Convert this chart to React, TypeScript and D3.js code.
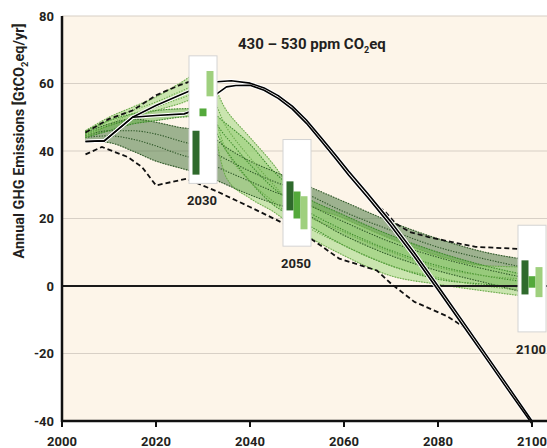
import React from "react";
import * as d3 from "d3";

// scenario years (shared by all green scenario groups)
const years = [2005, 2010, 2015, 2020, 2025, 2030, 2035, 2040, 2045, 2050, 2060, 2070, 2080, 2090, 2100];

// scenarios with < 50 GtCO2eq in 2030
const darkScenarios = [
  [45.5, 48, 49.5, 48.5, 47, 46, 41, 37, 34, 31, 25, 19, 14, 10, 7.6],
  [44.5, 46, 46, 45, 43, 41, 37.5, 34, 31, 28.5, 22, 16.5, 11.5, 8, 5],
  [44, 44.5, 43.5, 41.5, 39, 37, 34, 31, 28, 25.5, 19, 13, 8.5, 5, 2],
  [43, 42.5, 40, 37, 35, 33, 30, 27, 24.5, 22.4, 15, 9, 4.5, 1, -2.5],
];
// scenarios with 50-55 GtCO2eq in 2030
const midScenarios = [
  [46, 49, 51, 52, 52.5, 52.6, 48, 42, 34, 28, 21, 15, 10, 6, 2.9],
  [45, 47.5, 49.5, 50.5, 51, 51.5, 44, 36, 29, 24, 16.5, 10.5, 6, 3, 1],
  [44, 46, 48, 49, 50, 50.3, 40, 31, 24, 20, 12, 6, 2, 0.5, -0.5],
];
// scenarios with > 55 GtCO2eq in 2030
const lightScenarios = [
  [46, 50, 53, 56, 60, 63.7, 52, 44, 36, 26.6, 20, 14, 9, 6, 5.6],
  [45, 49, 52, 54.5, 57.5, 60, 47, 38, 30, 23, 16, 10, 5.5, 3, 2],
  [44.5, 48, 51, 53, 55.5, 57.5, 40, 31, 25, 19.5, 12, 6, 2.5, 0, -1.5],
  [44, 47.5, 50, 52, 54, 56.2, 32, 26, 22, 16.8, 9, 3, 0.5, -1.5, -3.3],
];

// full range envelope (dashed)
const upperDashYears = [2005, 2010, 2015, 2020, 2025, 2030, 2050, 2066, 2068.5, 2071, 2074, 2078, 2083, 2088, 2097, 2100];
const upperDash = [45.5, 49.5, 52, 56.5, 59.5, 62, NaN, 24.5, 22.4, 18.5, 16, 14.5, 13, 11.6, 11, 11];
const lowerDashYears = [2005, 2008.5, 2014, 2017, 2020, 2026.5, 2033, 2040, 2046.5, 2053.5, 2059, 2067, 2070, 2075, 2082, 2087];
const lowerDash = [39, 41.2, 38.2, 35.3, 29.8, 31.8, 28, 23.4, 19, 13.5, 8.1, 4.6, 0.7, -4.7, -9, -13.5];

// overshoot scenarios (solid black)
const blackYearsA = [2005, 2009, 2015, 2020, 2025, 2030, 2033, 2036, 2040, 2043, 2046, 2049, 2052, 2055, 2058, 2061, 2065, 2070, 2075, 2080, 2085, 2090, 2095, 2100];
const blackA = [42.8, 43, 50, 53.5, 56.5, 59.5, 60.5, 60.8, 60.1, 58.7, 56.4, 53.3, 49.2, 44.2, 39.2, 34, 27.5, 19, 9.8, 0, -9.9, -19.9, -29.9, -40];
const blackYearsB = [2005, 2009, 2015, 2020, 2026, 2030, 2033, 2035, 2037, 2040, 2043, 2046, 2049, 2052, 2055, 2058, 2061, 2065, 2070, 2075, 2080, 2085, 2090, 2095, 2100];
const blackB = [42.8, 43, 50, 50.5, 51, 53, 57, 59, 59.4, 59.5, 58, 55.6, 52.4, 48.2, 43.2, 38.1, 32.8, 26.3, 17.8, 8.6, -1.2, -11.1, -21, -31, -40.8];

const xTicks = [2000, 2020, 2040, 2060, 2080, 2100];
const yTicks = [80, 60, 40, 20, 0, -20, -40];
const gridValues = [80, 60, 40, 20, -20];
const snapshotYears = [2030, 2050, 2100];
// vertical extent of the white snapshot panels, in GtCO2eq
const panelRanges = [
  [30.4, 68.2],
  [11.8, 43.4],
  [-13.6, 18],
];

const W = 547;
const H = 448;
const FONT = "Roboto, 'Liberation Sans', sans-serif";

const groups = [
  { data: darkScenarios, fill: "#4f7a45", fillOpacity: 0.55, dot: "#2c5626", bar: "#2f6a2c" },
  { data: midScenarios, fill: "#5fb040", fillOpacity: 0.5, dot: "#3a8a28", bar: "#54a93b" },
  { data: lightScenarios, fill: "#a9da88", fillOpacity: 0.6, dot: "#6aaa4a", bar: "#9fd07e" },
];

export default function App() {
  const x = d3.scaleLinear().domain([2000, 2100]).range([62, 532]);
  const y = d3.scaleLinear().domain([-40, 80]).range([421, 16]);

  const scenarioLine = d3
    .line<number>()
    .x((_, i) => x(years[i]))
    .y((d) => y(d))
    .curve(d3.curveMonotoneX);

  const bandArea = (data: number[][]) =>
    d3
      .area<number>()
      .x((_, i) => x(years[i]))
      .y0((_, i) => y(d3.min(data, (s) => s[i]) as number))
      .y1((_, i) => y(d3.max(data, (s) => s[i]) as number))
      .curve(d3.curveMonotoneX)(years);

  const pairLine = (xs: number[], curve: d3.CurveFactory) =>
    d3
      .line<number>()
      .defined((d) => !isNaN(d))
      .x((_, i) => x(xs[i]))
      .y((d) => y(d))
      .curve(curve);

  const lineA = pairLine(blackYearsA, d3.curveLinear)(blackA) || "";
  const lineB = pairLine(blackYearsB, d3.curveLinear)(blackB) || "";

  return (
    <svg width={W} height={H} style={{ position: "absolute", left: 0, top: 0 }} fontFamily={FONT}>
      <rect width={W} height={H} fill="#ffffff" />
      <rect x={x(2000)} y={y(80)} width={W - x(2000)} height={y(-40) - y(80)} fill="#fdf5e9" />

      {gridValues.map((v) => (
        <line key={v} x1={x(2000)} x2={W} y1={y(v)} y2={y(v)} stroke="#d8d0c6" strokeWidth={1.2} />
      ))}

      {/* scenario bands */}
      {groups.map((g, gi) => (
        <path
          key={"band" + gi}
          d={bandArea(g.data) || ""}
          fill={g.fill}
          fillOpacity={g.fillOpacity}
          stroke={g.dot}
          strokeOpacity={0.5}
          strokeWidth={0.6}
        />
      ))}
      {groups.map((g, gi) =>
        g.data.map((s, si) => (
          <path
            key={"sc" + gi + "-" + si}
            d={scenarioLine(s) || ""}
            fill="none"
            stroke={g.dot}
            strokeWidth={1.1}
            strokeDasharray="1.3,1.4"
          />
        ))
      )}

      {/* zero line */}
      <line x1={x(2000)} x2={W} y1={y(0)} y2={y(0)} stroke="#1a1a1a" strokeWidth={1.8} />

      {/* full range */}
      <path d={pairLine(upperDashYears, d3.curveLinear)(upperDash) || ""} fill="none" stroke="#111" strokeWidth={1.8} strokeDasharray="5,3" />
      <path d={pairLine(lowerDashYears, d3.curveLinear)(lowerDash) || ""} fill="none" stroke="#111" strokeWidth={1.8} strokeDasharray="5,3" />

      {/* overshoot pathways */}
      <path d={lineA} fill="none" stroke="#fff" strokeWidth={3.6} strokeLinejoin="round" />
      <path d={lineB} fill="none" stroke="#fff" strokeWidth={3.6} strokeLinejoin="round" />
      <path d={lineA} fill="none" stroke="#000" strokeWidth={1.6} strokeLinejoin="round" />
      <path d={lineB} fill="none" stroke="#000" strokeWidth={1.6} strokeLinejoin="round" />

      {/* snapshot panels */}
      {snapshotYears.map((yr, k) => {
        const idx = years.indexOf(yr);
        const cx = x(yr);
        const [lo, hi] = panelRanges[k];
        return (
          <g key={"panel" + yr}>
            <rect x={cx - 14} y={y(hi)} width={28} height={y(lo) - y(hi)} fill="#fff" stroke="#d4d4d4" strokeWidth={1} />
            {groups.map((g, gi) => {
              const [mn, mx] = d3.extent(g.data, (s) => s[idx]) as [number, number];
              return (
                <rect key={gi} x={cx - 10.5 + gi * 7} y={y(mx)} width={7} height={Math.max(y(mn) - y(mx), 1)} fill={g.bar} />
              );
            })}
            <text x={cx - 1} y={y(lo) + 22} textAnchor="middle" fontSize={13} fontWeight={700} fill="#231f20">
              {yr}
            </text>
          </g>
        );
      })}

      {/* axes */}
      <line x1={x(2000)} x2={x(2000)} y1={y(80)} y2={y(-40) + 1} stroke="#111" strokeWidth={2.5} />
      <line x1={x(2000) - 1} x2={W} y1={y(-40)} y2={y(-40)} stroke="#111" strokeWidth={2.5} />
      {xTicks.map((t) => (
        <g key={"xt" + t}>
          <line x1={x(t)} x2={x(t)} y1={y(-40)} y2={y(-40) + 6} stroke="#111" strokeWidth={2} />
          <text x={x(t)} y={446} textAnchor="middle" fontSize={13} fontWeight={700} fill="#231f20">
            {t}
          </text>
        </g>
      ))}
      {yTicks.map((t) => (
        <text key={"yt" + t} x={54} y={y(t)} dy="0.35em" textAnchor="end" fontSize={13} fontWeight={700} fill="#231f20">
          {t}
        </text>
      ))}

      {/* titles */}
      <text x={238} y={48.5} fontSize={15} fontWeight={700} fill="#231f20">
        430 – 530 ppm CO<tspan fontSize={9} dy={4}>2</tspan>
        <tspan dy={-4}>eq</tspan>
      </text>
      <text transform="translate(24,141) rotate(-90)" textAnchor="middle" fontSize={14.5} fontWeight={700} fill="#231f20">
        Annual GHG Emissions [GtCO<tspan fontSize={9.5} dy={4}>2</tspan>
        <tspan dy={-4}>eq/yr]</tspan>
      </text>
    </svg>
  );
}
